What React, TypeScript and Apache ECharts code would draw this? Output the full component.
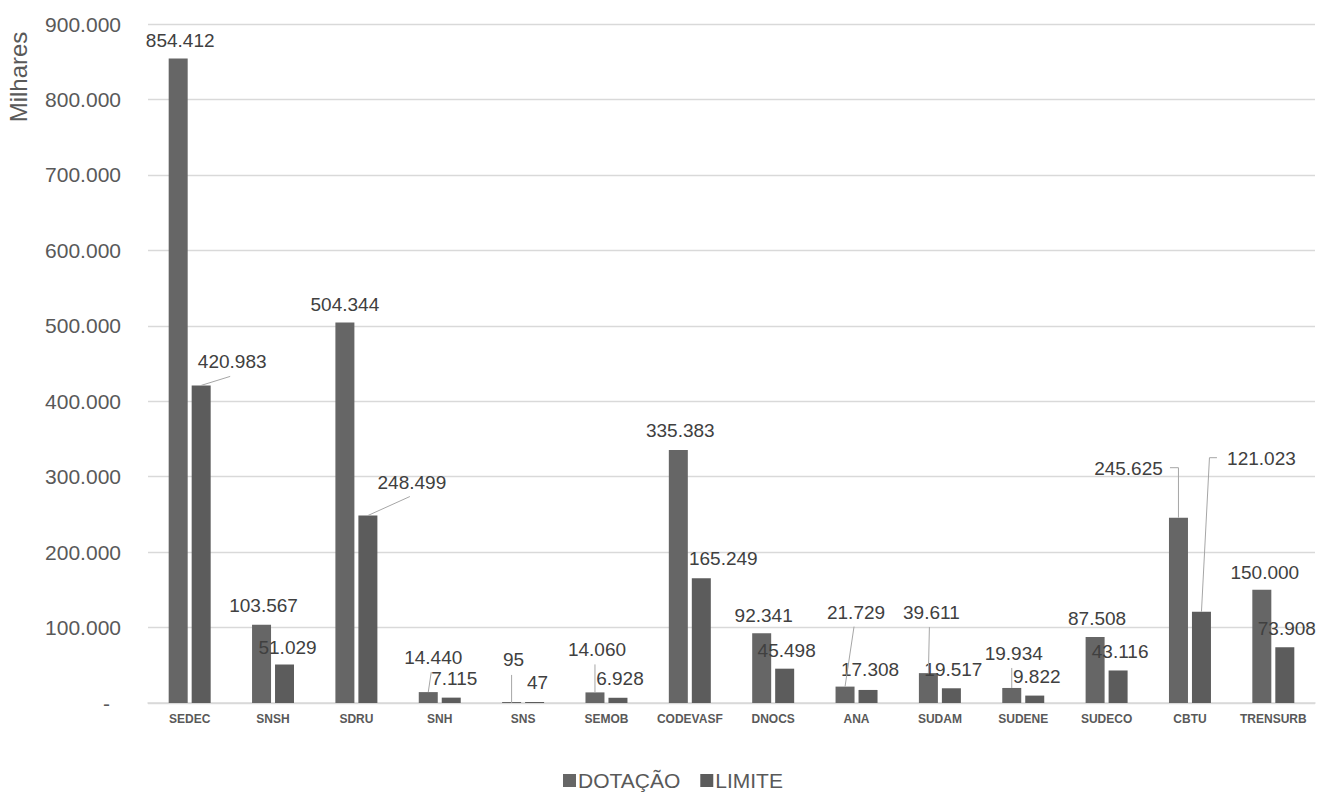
import React, { useEffect, useRef } from "react";
import * as echarts from "echarts";

const categories = ["SEDEC", "SNSH", "SDRU", "SNH", "SNS", "SEMOB", "CODEVASF", "DNOCS", "ANA", "SUDAM", "SUDENE", "SUDECO", "CBTU", "TRENSURB"];
const dotacao = [854412, 103567, 504344, 14440, 95, 14060, 335383, 92341, 21729, 39611, 19934, 87508, 245625, 150000];
const limite = [420983, 51029, 248499, 7115, 47, 6928, 165249, 45498, 17308, 19517, 9822, 43116, 121023, 73908];
const seriesNames = ["DOTAÇÃO", "LIMITE"];
const yTicks = [0, 100000, 200000, 300000, 400000, 500000, 600000, 700000, 800000, 900000];

// label displacement (px) from the default "top" spot
const dOff: number[][] = [[2, -3], [2, -5], [0, -4], [5, -20], [2, -28], [2, -28], [2, -5], [2, -3], [11, -60], [3, -46], [2, -20], [2, -4], [-50, -35], [3, -3]];
const lOff: number[][] = [[31, -9], [3, -3], [44, -19], [3, -5], [3, -5], [2, -5], [22, -5], [2, -4], [2, -6], [2, -4], [2, -5], [2, -4], [60, -139], [2, -4]];
// leader lines: series, category, kind
const leaders: [number, number, string][] = [
  [1, 0, "b"], [1, 2, "b"], [0, 3, "b"], [0, 4, "b"], [0, 5, "b"], [0, 8, "b"], [0, 9, "b"], [0, 10, "b"], [0, 12, "elbowL"], [1, 12, "elbowR"],
];

const fmt = (v: number) => String(Math.round(v)).replace(/\B(?=(\d{3})+(?!\d))/g, ".");
const FONT = "'Liberation Sans', Arial, sans-serif";
const HALF = 11.5;
const LABEL_W = 69;

export default function App() {
  const ref = useRef<HTMLDivElement>(null);
  useEffect(() => {
    document.body.style.margin = "0";
    const chart = echarts.init(ref.current!, null, { renderer: "svg" });
    const mk = (vals: number[], offs: number[][]) =>
      vals.map((v, i) => ({ value: v, label: { offset: offs[i] } }));
    const leaderData = leaders.map((l, k) => [l[1], (l[0] === 0 ? dotacao : limite)[l[1]], k]);
    chart.setOption({
      animation: false,
      textStyle: { fontFamily: FONT },
      grid: { left: 148, right: 4, top: 24, bottom: 91, containLabel: false },
      legend: {
        data: seriesNames,
        left: 558,
        top: 765,
        itemWidth: 13,
        itemHeight: 13,
        itemGap: 20,
        icon: "rect",
        textStyle: { fontSize: 21, color: "#595959", fontFamily: FONT, padding: [0, 0, 0, -3] },
      },
      graphic: [
        {
          type: "text",
          x: 18,
          y: 77,
          rotation: Math.PI / 2,
          style: { text: "Milhares", font: `24px ${FONT}`, fill: "#595959", textAlign: "center", textVerticalAlign: "middle" },
        },
      ],
      xAxis: {
        type: "category",
        data: categories,
        axisLine: { lineStyle: { color: "#d9d9d9", width: 1.5 } },
        axisTick: { show: false },
        axisLabel: { fontSize: 12, fontWeight: "bold", color: "#595959", margin: 10, interval: 0, fontFamily: FONT },
      },
      yAxis: {
        type: "value",
        min: yTicks[0],
        max: yTicks[yTicks.length - 1],
        interval: yTicks[1] - yTicks[0],
        axisLine: { show: false },
        axisTick: { show: false },
        splitLine: { lineStyle: { color: "#d9d9d9", width: 1.3 } },
        axisLabel: {
          fontSize: 21,
          color: "#595959",
          margin: 27,
          fontFamily: FONT,
          formatter: (v: number) => (v === 0 ? "{z|-}" : fmt(v)),
          rich: { z: { fontSize: 21, color: "#595959", padding: [0, 11, 0, 0], fontFamily: FONT } },
        },
      },
      series: [
        {
          name: seriesNames[0],
          type: "bar",
          barWidth: 19,
          barGap: "21%",
          barMinHeight: 1,
          itemStyle: { color: "#666666" },
          label: { show: true, position: "top", distance: 5, fontSize: 19, color: "#404040", fontFamily: FONT, formatter: (p: any) => fmt(p.value) },
          data: mk(dotacao, dOff),
          z: 2,
        },
        {
          name: seriesNames[1],
          type: "bar",
          barWidth: 19,
          barMinHeight: 1,
          itemStyle: { color: "#5c5c5c" },
          label: { show: true, position: "top", distance: 5, fontSize: 19, color: "#404040", fontFamily: FONT, formatter: (p: any) => fmt(p.value) },
          data: mk(limite, lOff),
          z: 2,
        },
        {
          type: "custom",
          silent: true,
          z: 5,
          clip: false,
          data: leaderData,
          renderItem: (params: any, api: any) => {
            const k = api.value(2);
            const [s, i, kind] = leaders[k];
            const off = s === 0 ? dOff[i] : lOff[i];
            const p = api.coord([api.value(0), api.value(1)]);
            const bx = p[0] + (s === 0 ? -HALF : HALF);
            const by = p[1];
            let pts: number[][];
            if (kind === "b") {
              pts = [[bx, by], [bx + off[0] - 2, by + off[1]]];
            } else if (kind === "elbowL") {
              const yy = by + off[1] - 15;
              pts = [[bx, by], [bx, yy], [bx + off[0] + LABEL_W / 2 + 7, yy]];
            } else {
              const yy = by + off[1] - 15;
              pts = [[bx, by], [bx + 8, yy], [bx + off[0] - LABEL_W / 2 - 10, yy]];
            }
            return { type: "polyline", shape: { points: pts }, style: { stroke: "#a6a6a6", lineWidth: 1, fill: null } };
          },
        },
      ],
    });
    return () => chart.dispose();
  }, []);
  return <div ref={ref} style={{ width: 1319, height: 794 }} />;
}
